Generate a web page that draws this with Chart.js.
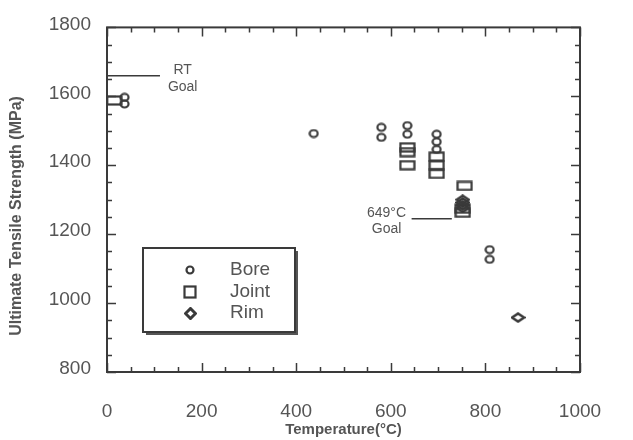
<!DOCTYPE html>
<html>
<head>
<meta charset="utf-8">
<script src="https://cdn.jsdelivr.net/npm/chart.js@4"></script>
<style>
  html, body { margin: 0; padding: 0; background: #fff; }
  #wrap { width: 633px; height: 440px; }
</style>
</head>
<body>
<div id="wrap"><canvas id="chart"></canvas></div>
<script>
// Data
const boreTemp = [37, 37, 437, 580, 580, 635, 635, 697, 697, 697, 809, 809];
const boreUts  = [1597, 1578, 1492, 1510, 1481, 1515, 1490, 1490, 1468, 1446, 1155, 1127];

const jointTemp = [15, 635, 635, 635, 697, 697, 697, 756, 752, 752];
const jointUts  = [1588, 1452, 1438, 1400, 1425, 1400, 1375, 1340, 1262, 1274];

const rimTemp = [752, 752, 752, 752, 869];
const rimUts  = [1300, 1292, 1284, 1276, 958];

// Goal lines
const rtGoalTemp = [0, 112];
const rtGoalUts = [1660, 1660];
const hotGoalTemp = [644, 729];
const hotGoalUts = [1245, 1245];

// Axis ticks
const xTicks = [0, 200, 400, 600, 800, 1000];
const yTicks = [800, 1000, 1200, 1400, 1600, 1800];

// Text notes on the plot (data coords)
const noteText = ['RT', 'Goal', '649\u00B0C', 'Goal'];
const noteTemp = [160, 160, 591, 591];
const noteUts  = [1676, 1628, 1262, 1215];

const ink = '#3a3a3a';
const textColor = '#555';
const fontFamily = '"Liberation Sans", Arial, Helvetica, sans-serif';

const toPoints = (xs, ys) => xs.map((x, i) => ({ x: x, y: ys[i] }));

// Marker images
const makeMarker = (w, h, lw, draw) => {
  const c = document.createElement('canvas');
  c.width = w;
  c.height = h;
  const g = c.getContext('2d');
  g.strokeStyle = ink;
  g.lineWidth = lw;
  draw(g, w, h);
  return c;
};

const drawCircle = (g, w, h) => {
  g.beginPath();
  g.ellipse(w / 2, h / 2, w / 2 - 1.5, h / 2 - 1.5, 0, 0, Math.PI * 2);
  g.stroke();
};
const drawRect = (g, w, h) => { g.strokeRect(1.5, 1.5, w - 3, h - 3); };
const drawDiamond = (g, w, h) => {
  g.beginPath();
  g.moveTo(w / 2, 1.5);
  g.lineTo(w - 1.5, h / 2);
  g.lineTo(w / 2, h - 1.5);
  g.lineTo(1.5, h / 2);
  g.closePath();
  g.stroke();
};

const circleMark = makeMarker(11, 10, 2.2, drawCircle);
const rectMark = makeMarker(17, 11, 2.2, drawRect);
const diamondMark = makeMarker(15, 11, 2.6, drawDiamond);

const legendItems = [
  { label: 'Bore', mark: makeMarker(10, 10, 2.2, drawCircle) },
  { label: 'Joint', mark: makeMarker(14, 14, 2.2, drawRect) },
  { label: 'Rim', mark: makeMarker(13, 13, 3, drawDiamond) }
];

// Box frame with inward ticks on all four sides
const frameTicks = {
  id: 'frameTicks',
  beforeDatasetsDraw(chart) {
    const { ctx, chartArea: a, scales: { x, y } } = chart;
    ctx.save();
    ctx.strokeStyle = ink;
    ctx.lineWidth = 2;
    ctx.strokeRect(a.left, a.top, a.right - a.left, a.bottom - a.top);
    ctx.lineWidth = 1.5;
    ctx.beginPath();
    for (let v = 0; v <= 1000; v += 50) {
      const px = Math.round(x.getPixelForValue(v)) + 0.5;
      const len = v % 200 === 0 ? 9 : 5;
      ctx.moveTo(px, a.bottom); ctx.lineTo(px, a.bottom - len);
      ctx.moveTo(px, a.top); ctx.lineTo(px, a.top + len);
    }
    for (let v = 800; v <= 1800; v += 50) {
      const py = Math.round(y.getPixelForValue(v)) + 0.5;
      const len = v % 200 === 0 ? 9 : 5;
      ctx.moveTo(a.left, py); ctx.lineTo(a.left + len, py);
      ctx.moveTo(a.right, py); ctx.lineTo(a.right - len, py);
    }
    ctx.stroke();
    ctx.restore();
  }
};

// Text notes, y title and boxed legend
const notesAndLegend = {
  id: 'notesAndLegend',
  afterDatasetsDraw(chart) {
    const { ctx, scales: { x, y } } = chart;
    ctx.save();
    ctx.fillStyle = textColor;
    ctx.font = '14px ' + fontFamily;
    ctx.textAlign = 'center';
    ctx.textBaseline = 'middle';
    noteText.forEach((t, i) => {
      ctx.fillText(t, x.getPixelForValue(noteTemp[i]), y.getPixelForValue(noteUts[i]));
    });

    // y axis title (sits a bit below the plot centre in the original)
    ctx.save();
    ctx.translate(17, 216);
    ctx.rotate(-Math.PI / 2);
    ctx.font = 'bold 16px ' + fontFamily;
    ctx.fillText('Ultimate Tensile Strength (MPa)', 0, 0);
    ctx.restore();

    // legend box with a drop shadow
    const bx = 143, by = 248, bw = 152, bh = 84;
    ctx.fillStyle = '#555';
    ctx.fillRect(bx + 3, by + 3, bw, bh);
    ctx.fillStyle = '#fff';
    ctx.fillRect(bx, by, bw, bh);
    ctx.strokeStyle = ink;
    ctx.lineWidth = 2;
    ctx.strokeRect(bx, by, bw, bh);

    ctx.font = '19px ' + fontFamily;
    ctx.textAlign = 'left';
    ctx.fillStyle = textColor;
    legendItems.forEach((item, i) => {
      const cy = 270 + i * 21.5;
      const m = item.mark;
      ctx.drawImage(m, Math.round(190 - m.width / 2), Math.round(cy - m.height / 2));
      ctx.fillText(item.label, 230, cy);
    });
    ctx.restore();
  }
};

new Chart(document.getElementById('chart').getContext('2d'), {
  type: 'scatter',
  data: {
    datasets: [
      { label: 'Bore', data: toPoints(boreTemp, boreUts), pointStyle: circleMark },
      { label: 'Joint', data: toPoints(jointTemp, jointUts), pointStyle: rectMark },
      { label: 'Rim', data: toPoints(rimTemp, rimUts), pointStyle: diamondMark },
      {
        label: 'RT Goal', data: toPoints(rtGoalTemp, rtGoalUts), showLine: true,
        pointRadius: 0, borderColor: ink, borderWidth: 1.5
      },
      {
        label: '649C Goal', data: toPoints(hotGoalTemp, hotGoalUts), showLine: true,
        pointRadius: 0, borderColor: ink, borderWidth: 1.5
      }
    ]
  },
  options: {
    responsive: true,
    maintainAspectRatio: false,
    animation: false,
    layout: { padding: { top: 24, right: 53, left: 0, bottom: 0 } },
    plugins: {
      legend: { display: false },
      tooltip: { enabled: false }
    },
    scales: {
      x: {
        type: 'linear',
        min: 0,
        max: 1000,
        afterBuildTicks: (scale) => { scale.ticks = xTicks.map(v => ({ value: v })); },
        afterFit: (scale) => { scale.height = 68; },
        grid: { drawOnChartArea: false, drawTicks: false },
        border: { display: false },
        ticks: {
          color: textColor, font: { family: fontFamily, size: 19 }, padding: 28, maxRotation: 0,
          callback: (v) => String(v)
        },
        title: {
          display: true,
          text: 'Temperature(\u00B0C)',
          color: textColor,
          font: { family: fontFamily, size: 15, weight: 'bold' },
          padding: { bottom: 1 }
        }
      },
      y: {
        type: 'linear',
        min: 800,
        max: 1800,
        afterBuildTicks: (scale) => { scale.ticks = yTicks.map(v => ({ value: v })); },
        afterFit: (scale) => { scale.width = 107; },
        grid: { drawOnChartArea: false, drawTicks: false },
        border: { display: false },
        ticks: {
          color: textColor, font: { family: fontFamily, size: 19 }, padding: 16, labelOffset: -3,
          callback: (v) => String(v)
        },
        title: { display: false }
      }
    }
  },
  plugins: [frameTicks, notesAndLegend]
});
</script>
</body>
</html>
